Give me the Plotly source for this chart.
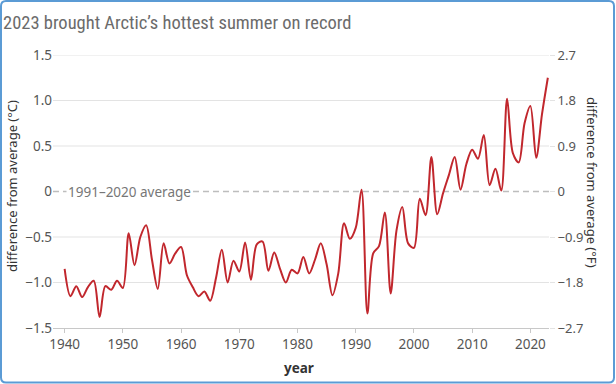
import plotly.graph_objects as go

years = list(range(1940, 2024))
anomaly_c = [
    -0.85, -1.15, -1.04, -1.16, -1.05, -0.98, -1.38, -1.04, -1.08, -0.98,  # 1940-1949
    -1.06, -0.46, -0.81, -0.50, -0.37, -0.75, -1.07, -0.57, -0.79, -0.68,  # 1950-1959
    -0.61, -0.92, -1.05, -1.15, -1.10, -1.20, -0.95, -0.64, -1.00, -0.76,  # 1960-1969
    -0.88, -0.56, -0.97, -0.58, -0.55, -0.87, -0.67, -0.85, -1.00, -0.86,  # 1970-1979
    -0.90, -0.72, -0.90, -0.75, -0.57, -0.80, -1.14, -0.90, -0.35, -0.52,  # 1980-1989
    -0.40, 0.02, -1.34, -0.68, -0.60, -0.23, -1.12, -0.43, -0.17, -0.57,   # 1990-1999
    -0.62, -0.08, -0.26, 0.38, -0.25, -0.02, 0.18, 0.38, 0.02, 0.30,       # 2000-2009
    0.46, 0.36, 0.62, 0.07, 0.25, 0.01, 1.02, 0.42, 0.32, 0.75,            # 2010-2019
    0.94, 0.37, 0.85, 1.25,                                                # 2020-2023
]

x_ticks = [1940, 1950, 1960, 1970, 1980, 1990, 2000, 2010, 2020]
y_ticks_c = [-1.5, -1.0, -0.5, 0, 0.5, 1.0, 1.5]
y_ticktext_c = ["\u22121.5", "\u22121.0", "\u22120.5", "0", "0.5", "1.0", "1.5"]
y_ticks_f = [-2.7, -1.8, -0.9, 0, 0.9, 1.8, 2.7]
y_ticktext_f = ["\u22122.7", "\u22121.8", "\u22120.9", "0", "0.9", "1.8", "2.7"]

title_text = "2023 brought Arctic\u2019s hottest summer on record"
baseline_label = "1991\u20132020 average"

# layout geometry (pixels)
W_, H_ = 616, 384
L, R, T, B = 53, 549, 55, 328
PW, PH = R - L, B - T


def px2x(px):
    return (px - L) / PW


def py2y(py):
    return (B - py) / PH


FONT = "Noto Sans, Open Sans, sans-serif"
RED = "#c1272d"
GRID = "#e3e3e3"

fig = go.Figure()
fig.add_trace(go.Scatter(
    x=years, y=anomaly_c, mode="lines",
    line=dict(color=RED, width=2, shape="spline", smoothing=0.9),
    hoverinfo="skip", showlegend=False,
))
# invisible trace on Fahrenheit axis
fig.add_trace(go.Scatter(
    x=years, y=[v * 1.8 for v in anomaly_c], mode="lines", yaxis="y2",
    line=dict(color="rgba(0,0,0,0)", width=0), hoverinfo="skip", showlegend=False,
))

shapes = []
for v in y_ticks_c:
    if v in (0, -1.5):
        continue
    shapes.append(dict(type="line", xref="paper", yref="y", x0=0, x1=1, y0=v, y1=v,
                       line=dict(color=GRID, width=1.2), layer="below"))
shapes.append(dict(type="line", xref="paper", yref="y", x0=0, x1=1, y0=0, y1=0,
                   line=dict(color="#bdbdbd", width=1.5, dash="6px,4px"), layer="below"))

# rounded border
x0, x1 = px2x(1), px2x(614)
y0, y1 = py2y(382.5), py2y(1)
rx, ry = 5 / PW, 5 / PH
path = (f"M {x0+rx},{y1} L {x1-rx},{y1} Q {x1},{y1} {x1},{y1-ry} "
        f"L {x1},{y0+ry} Q {x1},{y0} {x1-rx},{y0} L {x0+rx},{y0} "
        f"Q {x0},{y0} {x0},{y0+ry} L {x0},{y1-ry} Q {x0},{y1} {x0+rx},{y1} Z")
shapes.append(dict(type="path", xref="paper", yref="paper", path=path,
                   line=dict(color="#5b9bd5", width=2), layer="above"))

annotations = [
    dict(text=title_text, x=px2x(1), y=py2y(23), xref="paper", yref="paper",
         xanchor="left", yanchor="middle", showarrow=False,
         font=dict(family="Roboto Condensed, Liberation Sans Narrow, DejaVu Sans Condensed, sans-serif",
                   size=18.5, color="#6b6b6b")),
    dict(text="difference from average (°C)", x=px2x(12), y=py2y(186),
         xref="paper", yref="paper", textangle=-90, showarrow=False,
         xanchor="center", yanchor="middle", font=dict(family=FONT, size=13, color="#333")),
    dict(text="difference from average (°F)", x=px2x(592), y=py2y(182),
         xref="paper", yref="paper", textangle=90, showarrow=False,
         xanchor="center", yanchor="middle", font=dict(family=FONT, size=13, color="#333")),
    dict(text="<b>year</b>", x=px2x(299), y=py2y(368), xref="paper", yref="paper",
         showarrow=False, xanchor="center", yanchor="middle",
         font=dict(family=FONT, size=13.5, color="#333")),
    dict(text=baseline_label, x=px2x(66), y=0, xref="paper", yref="y",
         xanchor="left", yanchor="middle", showarrow=False, bgcolor="white",
         borderpad=1, font=dict(family=FONT, size=13.5, color="#777")),
]

fig.update_layout(
    width=W_, height=H_,
    margin=dict(l=L, r=W_ - R, t=T, b=H_ - B, pad=0),
    paper_bgcolor="white", plot_bgcolor="white",
    font=dict(family=FONT, size=13.5, color="#555"),
    xaxis=dict(range=[1938, 2023.2], tickvals=x_ticks, showgrid=False, zeroline=False,
               showline=True, linecolor="#c8c8c8", linewidth=1.2,
               ticks="outside", ticklen=4, tickcolor="#c8c8c8",
               tickfont=dict(family=FONT, size=13.5, color="#555")),
    yaxis=dict(range=[-1.5, 1.5], tickvals=y_ticks_c, ticktext=y_ticktext_c,
               showgrid=False, zeroline=False, showline=False, ticks="",
               tickfont=dict(family=FONT, size=13.5, color="#555")),
    yaxis2=dict(range=[-2.7, 2.7], tickvals=y_ticks_f, ticktext=y_ticktext_f,
                overlaying="y", side="right", showgrid=False, zeroline=False,
                showline=False, ticks="outside", ticklen=5, tickcolor=GRID,
                tickfont=dict(family=FONT, size=13, color="#555")),
    shapes=shapes, annotations=annotations,
)

fig.write_html("out.html", config={"displayModeBar": False},
               post_script="document.body.style.margin='0';document.body.style.overflow='hidden';")
